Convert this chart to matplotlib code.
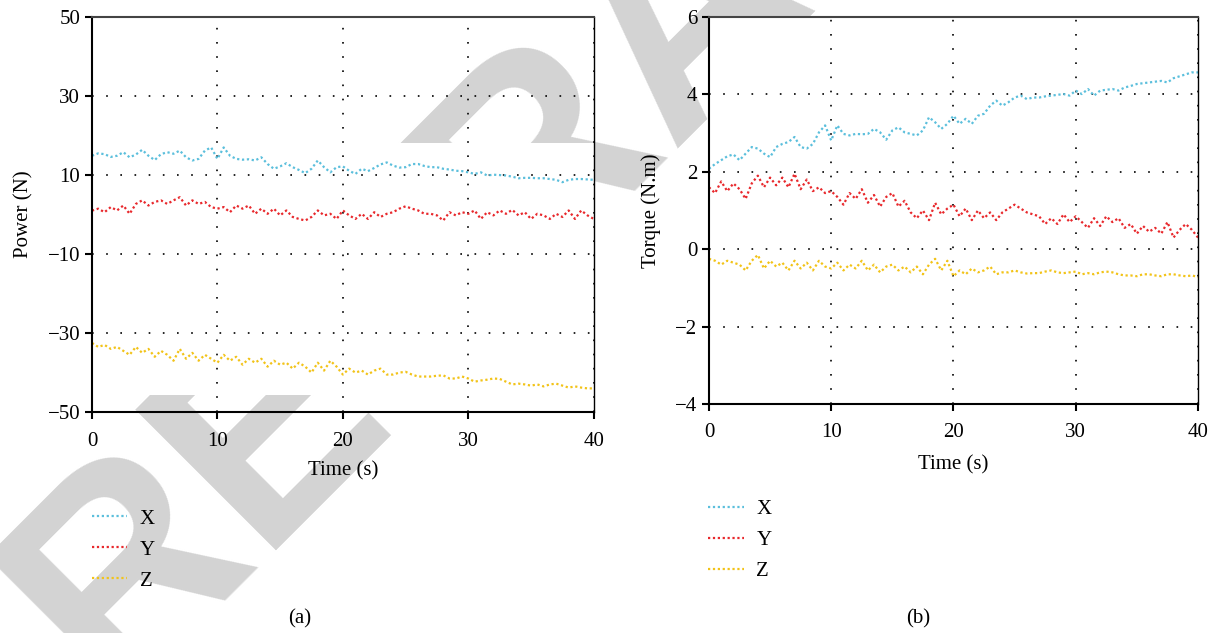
import numpy as np
import matplotlib
matplotlib.use("Agg")
import matplotlib.pyplot as plt
from matplotlib.patches import Rectangle

plt.rcParams['font.family'] = ['Liberation Serif', 'DejaVu Serif']

# time grid (s)
t = np.linspace(0, 40, 81)

# (a) force components
power_x = [14.9, 15.5, 15.3, 14.6, 14.9, 15.8, 14.5, 15.2, 16.4, 14.9,
           13.8, 15.3, 15.8, 15.4, 16.2, 14.5, 13.7, 14.1, 16.2, 17.0,
           14.1, 17.0, 14.9, 14.1, 13.9, 14.0, 13.7, 14.5, 12.8, 11.6,
           12.2, 13.0, 12.0, 11.3, 10.5, 11.6, 13.7, 12.0, 10.7, 12.0,
           12.2, 11.1, 10.3, 11.6, 11.0, 11.8, 12.7, 13.2, 12.4, 11.9,
           12.0, 12.8, 12.8, 12.3, 12.0, 12.0, 11.6, 11.4, 11.1, 11.0,
           10.7, 10.3, 10.7, 9.9, 10.1, 10.0, 9.9, 9.6, 9.2, 9.3,
           9.3, 9.2, 9.2, 9.0, 8.8, 8.2, 8.8, 9.0, 9.0, 8.9,
           8.8]
power_y = [1.0, 1.5, 0.6, 1.9, 1.05, 2.3, 0.2, 2.7, 3.6, 2.3,
           3.2, 3.6, 2.7, 3.6, 4.4, 2.3, 3.6, 2.7, 3.2, 1.9,
           1.5, 1.9, 0.6, 2.3, 1.5, 2.3, 0.2, 1.5, 0.2, 1.5,
           -0.2, 1.05, -0.6, -1.1, -1.5, -0.6, 1.05, -0.2, 0.2, -1.1,
           1.05, -0.2, -1.1, 0.2, -1.1, 0.6, -0.6, 0.2, 0.6, 1.5,
           2.1, 1.5, 1.05, 0.2, 0.2, -0.2, -1.5, 0.6, -0.2, 0.6,
           0.2, 1.05, -1.1, 0.6, -0.2, 1.05, 0.2, 1.2, -0.2, 0.6,
           -1.1, 0.2, -0.2, -1.1, 0.2, -0.6, 1.05, -1.1, 1.05, -0.2,
           -1.1]
power_z = [-32.5, -33.5, -33.0, -34.0, -33.5, -34.5, -35.5, -33.5, -35.0, -34.0,
           -36.0, -34.5, -35.5, -37.0, -34.0, -36.5, -35.0, -37.0, -35.5, -36.5,
           -37.5, -35.5, -37.0, -36.0, -38.0, -36.5, -37.5, -36.5, -38.5, -37.0,
           -38.0, -37.5, -39.0, -37.5, -38.5, -40.0, -37.5, -39.5, -37.0, -38.5,
           -40.5, -39.0, -40.0, -39.5, -40.5, -39.5, -39.0, -40.5, -40.5, -40.0,
           -39.8, -40.5, -41.0, -41.0, -41.0, -40.8, -40.7, -41.5, -41.5, -41.0,
           -41.5, -42.3, -42.0, -41.8, -41.5, -41.6, -42.3, -43.0, -42.8, -43.0,
           -43.3, -43.0, -43.5, -43.0, -42.8, -43.3, -43.8, -43.5, -43.8, -44.0,
           -44.0]

# (b) torque components
torque_x = [2.08, 2.2, 2.3, 2.4, 2.45, 2.3, 2.47, 2.64, 2.6, 2.47,
            2.38, 2.64, 2.72, 2.77, 2.9, 2.64, 2.6, 2.72, 3.02, 3.2,
            2.81, 3.2, 2.98, 2.94, 2.98, 2.97, 2.98, 3.11, 3.02, 2.83,
            3.07, 3.15, 3.02, 2.98, 2.94, 3.07, 3.41, 3.28, 3.11, 3.24,
            3.45, 3.24, 3.37, 3.24, 3.45, 3.5, 3.71, 3.84, 3.71, 3.8,
            3.92, 3.97, 3.88, 3.92, 3.92, 3.95, 3.97, 3.99, 4.01, 3.97,
            4.1, 4.01, 4.14, 3.97, 4.1, 4.12, 4.14, 4.1, 4.18, 4.22,
            4.27, 4.29, 4.31, 4.33, 4.35, 4.31, 4.42, 4.47, 4.52, 4.57,
            4.57]
torque_y = [1.6, 1.45, 1.75, 1.5, 1.7, 1.55, 1.3, 1.7, 1.9, 1.6,
            1.85, 1.65, 1.85, 1.6, 1.95, 1.55, 1.8, 1.5, 1.6, 1.45,
            1.5, 1.35, 1.15, 1.45, 1.3, 1.55, 1.2, 1.4, 1.1, 1.35,
            1.45, 1.1, 1.25, 0.95, 0.8, 1.0, 0.75, 1.2, 0.9, 1.05,
            1.15, 0.85, 1.05, 0.75, 1.0, 0.8, 0.95, 0.75, 0.95, 1.05,
            1.15, 1.05, 0.95, 0.9, 0.85, 0.65, 0.8, 0.65, 0.9, 0.7,
            0.85, 0.7, 0.55, 0.8, 0.6, 0.85, 0.7, 0.8, 0.55, 0.65,
            0.4, 0.6, 0.45, 0.55, 0.4, 0.7, 0.3, 0.5, 0.65, 0.5,
            0.3]
torque_z = [-0.25, -0.3, -0.4, -0.3, -0.35, -0.4, -0.55, -0.3, -0.15, -0.5,
            -0.3, -0.45, -0.35, -0.55, -0.3, -0.5, -0.35, -0.55, -0.3, -0.45,
            -0.5, -0.35, -0.55, -0.4, -0.5, -0.3, -0.55, -0.4, -0.6, -0.45,
            -0.4, -0.55, -0.45, -0.6, -0.45, -0.65, -0.4, -0.25, -0.55, -0.3,
            -0.7, -0.55, -0.65, -0.5, -0.6, -0.55, -0.45, -0.65, -0.6, -0.6,
            -0.55, -0.6, -0.63, -0.62, -0.62, -0.58, -0.55, -0.6, -0.62, -0.6,
            -0.58, -0.65, -0.62, -0.65, -0.6, -0.58, -0.6, -0.65, -0.68, -0.68,
            -0.7, -0.65, -0.65, -0.68, -0.7, -0.65, -0.65, -0.68, -0.7, -0.68,
            -0.72]

labels = ['X', 'Y', 'Z']
colors = ['#5bbfdc', '#e8282c', '#f2c318']

fig = plt.figure(figsize=(12.15, 6.33), dpi=100)

# retraction watermark, behind the axes
fig.text(0.0905, -0.103, 'RETRACTED', rotation=45, rotation_mode='anchor',
         ha='left', va='baseline', fontsize=209, fontweight='bold',
         family='Liberation Sans', color='#d3d3d3', zorder=-1)

ax1 = fig.add_axes([0.0757, 0.349, 0.413, 0.624])
ax2 = fig.add_axes([0.5835, 0.362, 0.4025, 0.611])

# in (a) the stamp shows through at the top and bottom of the plot area only
ax1.patch.set_visible(False)
ax1.add_patch(Rectangle((0, 0.043), 1, 0.637, transform=ax1.transAxes,
                        facecolor='white', edgecolor='none', zorder=0.1))


def style(ax, ylim, yticks, ylabel, xpad):
    ax.set_xlim(0, 40)
    ax.set_ylim(*ylim)
    ax.set_xticks([0, 10, 20, 30, 40])
    ax.set_yticks(yticks)
    ax.grid(True, color='black', linestyle=(0, (1, 7.5)), linewidth=1.2)
    ax.tick_params(direction='out', length=5, width=1.5, labelsize=15,
                   top=False, right=False)
    ax.tick_params(axis='x', pad=9)
    for side in ['left', 'bottom']:
        ax.spines[side].set_linewidth(1.5)
    ax.spines['top'].set_linewidth(1.5)
    ax.spines['top'].set_color('#444444')
    ax.spines['right'].set_linewidth(1.0)
    ax.set_xlabel('Time (s)', fontsize=15, labelpad=xpad)
    ax.set_ylabel(ylabel, fontsize=15, labelpad=10)


for vals, lab, c in zip([power_x, power_y, power_z], labels, colors):
    ax1.plot(t, vals, linestyle=(0, (1, 1.2)), color=c, linewidth=1.6, label=lab)
style(ax1, (-50, 50), [-50, -30, -10, 10, 30, 50], 'Power (N)', 8)

for vals, lab, c in zip([torque_x, torque_y, torque_z], labels, colors):
    ax2.plot(t, vals, linestyle=(0, (1, 1.2)), color=c, linewidth=1.6, label=lab)
style(ax2, (-4, 6), [-4, -2, 0, 2, 4, 6], 'Torque (N.m)', 9.5)

leg_kw = dict(frameon=False, fontsize=15, handlelength=1.7, handletextpad=0.6,
              labelspacing=0.55, borderpad=0, borderaxespad=0)
ax1.legend(loc='upper left', bbox_to_anchor=(0.0757, 0.196),
           bbox_transform=fig.transFigure, **leg_kw)
ax2.legend(loc='upper left', bbox_to_anchor=(0.583, 0.211),
           bbox_transform=fig.transFigure, **leg_kw)

fig.text(300 / 1215, 1 - 619 / 633, '(a)', ha='center', va='center', fontsize=15)
fig.text(918 / 1215, 1 - 619 / 633, '(b)', ha='center', va='center', fontsize=15)

fig.savefig('out.png', dpi=100)
